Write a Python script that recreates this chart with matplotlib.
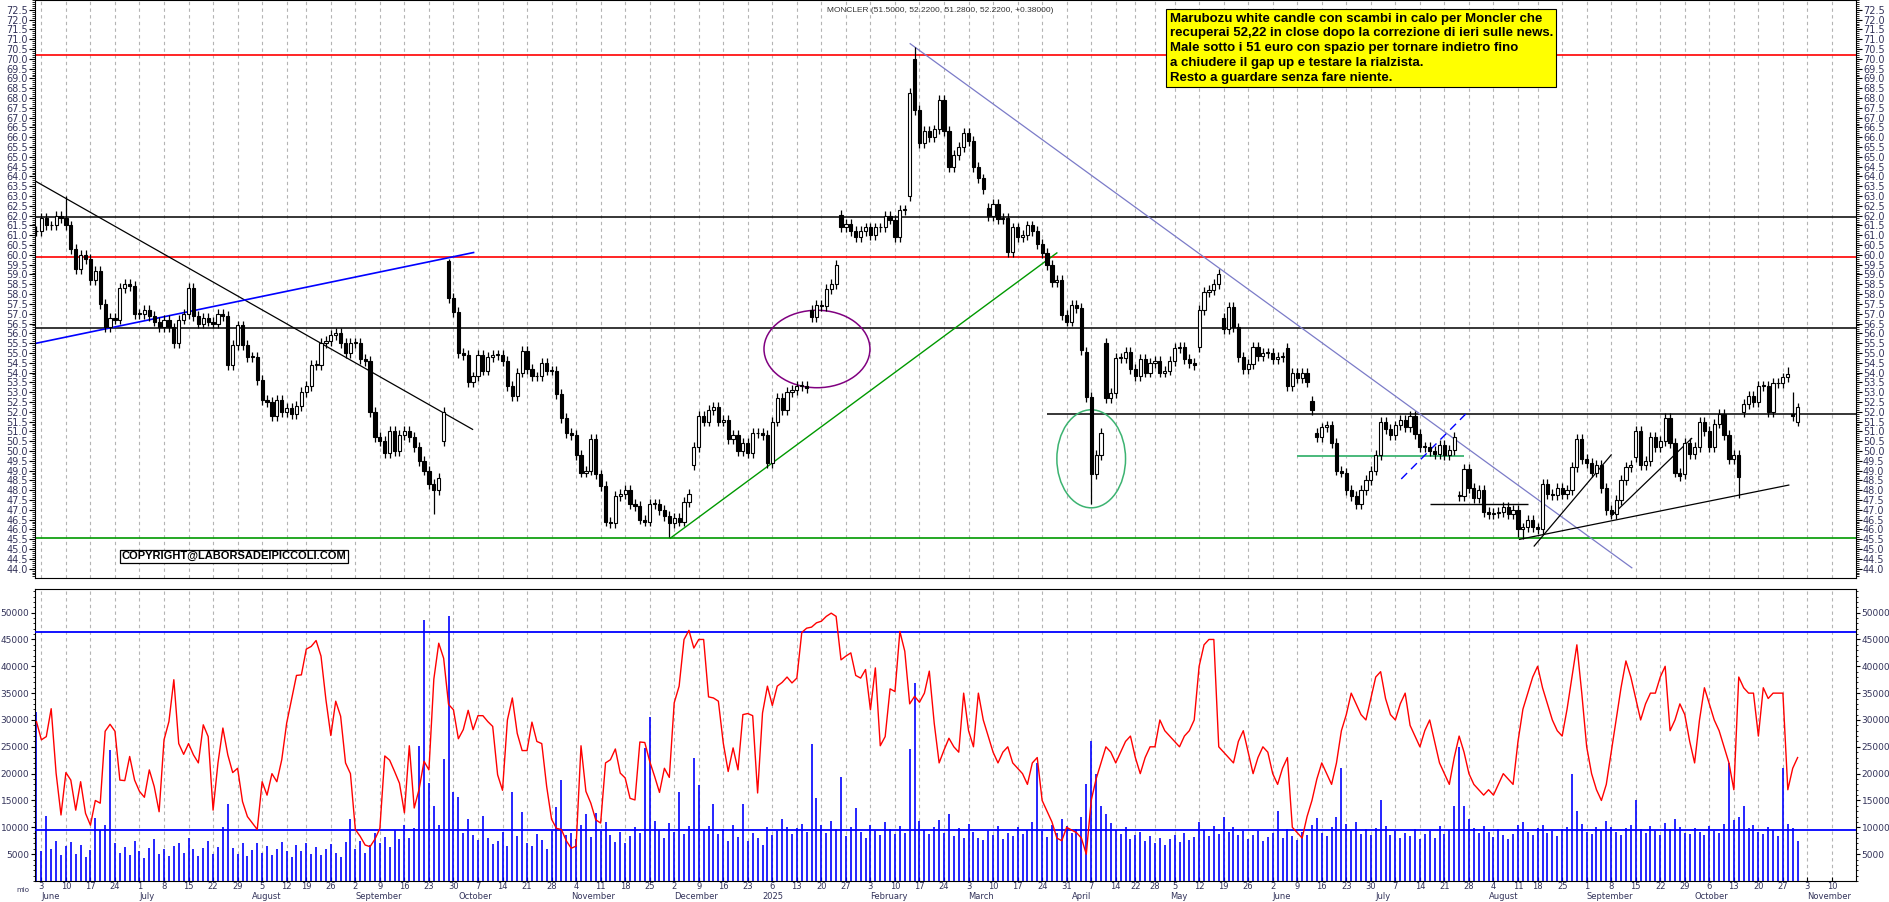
import numpy as np
import pandas as pd
import matplotlib
matplotlib.use("Agg")
import matplotlib.pyplot as plt
from matplotlib.patches import Ellipse
from matplotlib.ticker import MultipleLocator, FixedLocator

# ---------------- DATA ----------------
holidays = ["2024-08-15", "2024-12-24", "2024-12-25", "2024-12-26", "2024-12-31",
            "2025-01-01", "2025-04-18", "2025-04-21", "2025-05-01", "2025-08-15"]

closes = [
 61.2, 61.9, 61.5, 61.5, 62.0, 61.9, 61.5, 60.3, 59.3, 60.0, 59.8, 58.7, 59.2, 57.5, 56.3, 56.8, 56.7, 58.3, 58.5, 58.4,
 57.0, 57.0, 57.2, 56.9, 56.6, 56.3, 56.7, 56.3, 55.5, 56.7, 57.0, 58.3, 56.9, 56.5, 56.8, 56.6, 56.5, 57.0, 56.9, 54.4,
 55.4, 56.4, 55.4, 54.8, 54.8, 53.6, 52.6, 52.5, 51.8, 52.6, 52.0, 52.2, 51.9, 52.3, 53.0, 53.3, 54.4, 54.4, 55.5, 55.6,
 55.9, 56.0, 55.5, 55.0, 55.5, 55.5, 54.7, 54.6, 52.0, 50.7, 50.5, 49.9, 51.0, 50.0, 50.8, 51.0, 50.7, 50.2, 49.5, 49.0,
 48.3, 48.0, 48.6, 52.0, 57.8, 57.1, 55.0, 54.9, 53.5, 53.8, 54.9, 54.1, 54.8, 54.9, 54.9, 54.6, 53.3, 52.8, 54.0, 55.1,
 54.2, 53.8, 53.8, 54.5, 54.1, 54.1, 52.9, 51.7, 50.9, 50.8, 49.8, 48.9, 49.0, 50.6, 48.8, 48.2, 46.4, 46.3, 47.7, 47.8,
 48.0, 47.3, 47.2, 46.5, 46.4, 47.3, 47.3, 47.0, 46.7, 46.3, 46.6, 46.4, 47.4, 47.8, 50.2, 51.8, 51.5, 52.1, 52.25, 51.5,
 51.6, 50.6, 50.8, 50.0, 50.4, 49.9, 50.9, 50.9, 50.8, 49.4, 51.5, 52.7, 52.1, 53.0, 53.1, 53.3, 53.3, 53.2, 56.85, 57.45,
 57.4, 58.25, 58.5, 59.5, 61.4, 61.6, 61.2, 60.9, 61.2, 61.4, 61.0, 61.4, 61.4, 62.0, 61.8, 60.9, 62.3, 62.3, 68.25, 67.4,
 65.7, 66.3, 66.0, 66.4, 67.9, 66.3, 64.5, 65.1, 65.5, 66.2, 65.8, 64.5, 63.9, 63.35, 62.0, 62.6, 61.85, 61.9, 60.15, 61.4,
 60.9, 61.0, 61.5, 61.2, 60.55, 60.1, 59.5, 58.6, 58.7, 56.95, 56.6, 57.45, 57.3, 55.15, 52.75, 48.8, 49.8, 50.9, 52.7, 52.95,
 54.75, 54.75, 55.05, 54.2, 53.8, 54.7, 54.0, 54.5, 54.6, 54.0, 54.1, 54.6, 55.25, 55.3, 54.7, 54.5, 54.4, 57.2, 58.1, 58.2,
 58.5, 59.0, 56.2, 57.35, 56.3, 54.8, 54.2, 54.45, 55.3, 54.85, 55.0, 55.0, 54.7, 54.8, 54.8, 53.3, 54.0, 53.7, 54.0, 53.5,
 52.1, 50.7, 51.2, 51.3, 50.4, 49.0, 48.9, 48.0, 47.7, 47.3, 48.0, 48.5, 49.0, 49.8, 51.5, 51.1, 50.8, 51.3, 51.6, 51.2,
 51.8, 50.85, 50.2, 50.2, 50.0, 49.85, 50.3, 49.8, 50.05, 50.7, 47.7, 49.1, 48.1, 47.6, 48.0, 46.9, 46.8, 46.85, 46.9, 47.15,
 46.8, 47.0, 46.0, 46.1, 46.5, 46.1, 46.0, 48.3, 47.8, 47.75, 48.1, 47.8, 48.0, 49.2, 50.6, 49.6, 49.4, 48.9, 49.3, 48.1,
 47.0, 46.8, 47.5, 48.5, 49.2, 49.3, 51.0, 49.3, 49.5, 50.7, 50.2, 50.5, 51.7, 50.4, 48.9, 48.7, 50.4, 49.85, 50.2, 51.5,
 51.0, 50.2, 51.4, 51.9, 50.8, 49.6, 49.8, 48.65, 52.4, 52.8, 52.5, 53.3, 53.3, 52.0, 53.45, 53.45, 53.75, 53.9, 51.8, 52.22,
]

# opens that differ from the previous close (gaps)
gap_opens = {0: 61.2, 83: 50.5, 84: 59.7, 134: 49.3, 158: 57.2, 164: 62.04, 178: 63.0, 179: 70.0,
             194: 62.4, 214: 55.05, 218: 55.5, 237: 55.3, 242: 56.8, 255: 55.25, 260: 52.55,
             261: 50.9, 274: 49.8, 290: 47.7, 307: 46.0, 313: 48.0, 326: 49.7, 336: 48.8,
             348: 52.0, 358: 51.9, 359: 51.5}
high_over = {6: 63.0, 84: 59.8, 178: 68.5, 179: 70.6, 241: 59.3, 357: 54.3, 358: 53.0}
low_over = {81: 46.8, 129: 45.6, 215: 47.3, 302: 45.6, 303: 45.5, 347: 47.6}

volume_k = [
 31.5, 5.5, 12.1, 6.0, 7.5, 4.8, 6.5, 7.2, 5.0, 6.8, 4.5, 5.8, 11.8, 9.5, 10.4, 24.4, 7.0, 5.2, 6.3, 4.9,
 7.4, 5.5, 4.3, 6.1, 7.8, 5.0, 6.0, 4.6, 6.6, 7.0, 5.3, 8.1, 5.9, 4.7, 6.2, 7.5, 5.1, 6.3, 10.0, 14.4,
 6.2, 5.0, 7.0, 4.6, 5.8, 7.1, 5.3, 6.5, 4.9, 6.0, 7.3, 5.5, 4.4, 6.8, 5.6, 7.0, 5.1, 6.4, 4.8, 5.9,
 6.9, 5.2, 4.5, 7.2, 11.6, 6.0, 7.5, 5.3, 6.8, 9.0, 7.0, 8.2, 6.4, 9.5, 7.8, 10.5, 8.0, 9.8, 25.2, 48.7,
 18.3, 14.0, 10.5, 22.8, 49.4, 16.5, 15.6, 9.0, 11.6, 8.5, 7.6, 12.1, 8.0, 6.9, 7.5, 9.2, 6.6, 16.5, 8.3, 12.9,
 7.1, 6.5, 8.8, 7.7, 6.0, 9.3, 13.8, 18.8, 8.5, 9.0, 7.9, 10.5, 12.5, 8.2, 12.6, 9.4, 11.0, 8.6, 7.3, 9.1,
 7.0, 8.4, 10.0, 9.0, 24.7, 30.5, 11.2, 9.5, 8.0, 10.8, 9.2, 16.5, 8.8, 10.3, 23.0, 17.9, 9.5, 10.2, 14.3, 8.7,
 9.6, 7.4, 10.5, 8.2, 14.4, 7.5, 9.0, 8.1, 6.8, 10.0, 8.5, 9.4, 11.5, 10.1, 8.7, 9.8, 10.6, 9.2, 25.6, 15.5,
 10.5, 9.0, 11.2, 9.6, 19.3, 8.4, 10.0, 13.6, 9.1, 8.0, 10.4, 9.3, 8.6, 11.0, 9.7, 8.8, 10.2, 9.0, 24.6, 36.8,
 11.2, 9.5, 8.7, 10.1, 11.4, 9.0, 12.5, 8.3, 9.9, 8.1, 10.7, 9.2, 8.0, 7.6, 9.4, 8.5, 10.3, 7.9, 9.0, 8.4,
 10.1, 8.8, 9.5, 11.0, 22.0, 9.3, 8.2, 10.5, 9.0, 11.5, 10.2, 8.9, 9.7, 12.0, 18.0, 26.0, 20.0, 14.0, 12.5, 10.8,
 9.5, 8.7, 10.0, 7.8, 8.6, 9.2, 7.5, 8.3, 7.0, 8.0, 6.8, 7.9, 8.5, 7.2, 9.0, 7.6, 8.2, 11.0, 9.5, 8.4,
 10.2, 8.8, 12.0, 9.1, 10.0, 8.5, 9.3, 7.8, 8.6, 9.4, 7.5, 8.2, 9.0, 13.0, 8.0, 9.6, 8.3, 7.7, 9.2, 8.5,
 10.5, 11.8, 9.0, 8.4, 10.0, 12.0, 21.0, 10.6, 9.5, 11.0, 8.8, 9.7, 8.5, 9.9, 15.0, 10.2, 8.6, 9.3, 8.1, 9.0,
 8.4, 9.6, 7.9, 8.8, 9.4, 8.0, 10.2, 8.7, 9.5, 14.0, 25.0, 14.0, 11.5, 9.8, 8.9, 10.3, 9.1, 8.2, 9.6, 8.5,
 7.9, 8.8, 10.4, 11.0, 9.2, 8.6, 9.8, 10.5, 8.9, 9.4, 8.3, 9.7, 10.1, 20.0, 13.0, 10.6, 9.2, 8.7, 10.0, 9.5,
 11.2, 10.0, 9.1, 8.6, 9.8, 10.4, 15.0, 9.6, 8.9, 10.2, 9.3, 8.5, 10.8, 9.7, 11.5, 10.1, 9.0, 8.8, 9.9, 9.2,
 8.6, 10.3, 9.4, 8.9, 10.7, 22.0, 11.3, 12.0, 14.0, 9.8, 10.5, 9.1, 8.7, 10.0, 9.5, 8.4, 21.0, 10.6, 9.8, 7.5,
]

red_k = [
 29.7, 26.3, 26.9, 32.1, 20.1, 12.3, 20.2, 18.8, 13.2, 18.5, 12.6, 10.4, 15.0, 14.5, 27.9, 29.2, 27.9, 18.8, 18.7,
 23.2, 18.8, 16.7, 15.6, 20.7, 17.6, 12.9, 26.3, 29.7, 37.5, 25.6, 23.6, 25.6, 23.5, 22.0, 29.1, 26.9, 13.2, 22.0, 28.5,
 23.5, 20.2, 21.0, 14.8, 12.0, 10.8, 9.6, 18.5, 16.0, 20.0, 18.5, 22.6, 29.4, 33.8, 38.3, 38.4, 43.2, 43.7, 44.8, 41.9,
 33.8, 27.1, 33.5, 30.7, 22.0, 20.0, 9.6, 8.3, 6.7, 6.4, 7.8, 9.8, 23.3, 22.5, 20.4, 18.2, 12.7, 25.2, 13.6, 17.1,
 22.3, 20.7, 37.6, 44.3, 41.5, 32.9, 31.9, 26.5, 28.2, 31.8, 28.2, 30.8, 30.8, 29.7, 28.8, 19.8, 16.9, 30.0, 34.1, 27.5,
 24.3, 24.3, 29.6, 26.0, 25.6, 17.6, 11.5, 9.8, 9.6, 7.5, 6.1, 6.5, 25.2, 16.7, 14.5, 11.4, 10.8, 22.0, 22.6, 24.6,
 20.1, 19.2, 15.4, 15.1, 25.9, 25.8, 22.3, 19.5, 16.5, 21.0, 19.3, 33.2, 36.3, 45.0, 46.7, 43.4, 45.0, 45.0, 34.3, 34.1,
 33.5, 25.7, 20.4, 24.8, 20.7, 31.0, 31.2, 30.8, 16.4, 31.3, 36.3, 32.7, 36.3, 37.0, 38.0, 36.9, 37.8, 46.3, 47.1, 47.3,
 48.1, 48.4, 49.3, 49.9, 49.3, 41.2, 41.9, 42.5, 38.3, 37.8, 39.4, 31.9, 39.7, 25.2, 26.9, 35.8, 35.3, 46.5, 42.8, 33.0,
 34.4, 33.3, 35.0, 39.1, 29.4, 22.0, 24.4, 26.6,
 25, 24, 35, 28, 25, 35, 30, 27, 24, 22, 24, 25, 22,
 21, 20, 18, 22, 23, 15, 13, 11, 8, 7.5, 10, 9.5, 9, 8, 5, 15, 19, 22, 25, 24,
 22, 24, 26, 27, 23, 20, 23, 25, 25, 30, 28, 27, 26, 25, 27, 28, 30, 40, 44, 45,
 45, 25, 24, 23, 22, 26, 28, 24, 20, 23, 25, 24, 20, 18, 21, 23, 10, 9, 8, 12,
 15, 19, 22, 20, 18, 22, 28, 31, 35, 33, 31, 30, 34, 38, 39, 34, 31, 30, 33, 35,
 29, 27, 25, 28, 30, 26, 22, 20, 18, 23, 27, 24, 20, 18, 17, 16, 17, 16, 18, 20,
 19, 18, 26, 32, 35, 38, 40, 36, 33, 30, 28, 27, 32, 38, 44, 35, 25, 20, 17, 15,
 18, 24, 30, 36, 41, 38, 34, 30, 33, 35, 35, 38, 40, 28, 30, 33, 31, 26, 22, 30,
 36, 33, 30, 28, 25, 22, 17, 38, 36, 35, 35, 27, 36, 34, 35, 35, 35, 17, 21, 23,
]

price_levels_black = [61.95, 56.28]
price_levels_red = [70.2, 59.88]
support_green = 45.55
vol_levels = [46400, 9500]

# trendlines (day index, price)
line_black_down = [(-0.7, 63.83), (88.9, 51.1)]
line_blue_up = [(-0.7, 55.46), (89.1, 60.12)]
line_green_up = [(129.2, 45.55), (208.0, 60.1)]
line_slate = [(178.1, 70.77), (325.2, 44.04)]
line_blue_dash = [(278.2, 48.57), (292.2, 52.1)]
line_black_1 = [(305.3, 45.15), (321.0, 49.8)]
line_black_2 = [(321.0, 46.68), (337.4, 50.64)]
line_black_3 = [(302.3, 45.49), (357.2, 48.26)]
hline_black_52 = (206.0, 51.9)
hline_black_47 = (284.0, 304.0, 47.27)
hline_green_50 = (257.0, 291.0, 49.75)

note_text = ("Marubozu white candle con scambi in calo per Moncler che\n"
             "recuperai 52,22 in close dopo la correzione di ieri sulle news.\n"
             "Male sotto i 51 euro con spazio per tornare indietro fino\n"
             "a chiudere il gap up e testare la rialzista.\n"
             "Resto a guardare senza fare niente.")
title_text = "MONCLER (51.5000, 52.2200, 51.2800, 52.2200, +0.38000)"
copyright_text = "COPYRIGHT@LABORSADEIPICCOLI.COM"
month_names = {1: "2025", 2: "February", 3: "March", 4: "April", 5: "May", 6: "June", 7: "July",
               8: "August", 9: "September", 10: "October", 11: "November", 12: "December"}
price_ticks = np.arange(43.5, 72.51, 0.5)
volume_ticks = np.arange(5000, 50001, 5000)

# ---------------- PREP ----------------
all_days = pd.bdate_range("2024-05-31", "2025-11-14")
all_days = all_days[~all_days.isin(pd.to_datetime(holidays))]
n = len(closes)
idx = np.arange(n)
c = np.array(closes)
o = np.concatenate([[c[0]], c[:-1]])
for k, v in gap_opens.items():
    o[k] = v
hi = np.maximum(o, c) + 0.25
lo = np.minimum(o, c) - 0.25
for k, v in high_over.items():
    hi[k] = v
for k, v in low_over.items():
    lo[k] = v

# week / month ticks (skip a week tick too close to the previous one)
week_ticks, week_labels, month_ticks, month_labels = [], [], [], []
for i in range(1, len(all_days)):
    d, p = all_days[i], all_days[i - 1]
    if d.weekday() < p.weekday() or (d - p).days > 3:
        if not week_ticks or i - week_ticks[-1] >= 4:
            week_ticks.append(i)
            week_labels.append(str(d.day))
    if d.month != p.month:
        month_ticks.append(i)
        month_labels.append(month_names[d.month])

XMIN, XMAX = -0.3, 370.9
tick_color = "#33335a"

fig = plt.figure(figsize=(18.9, 9.02), dpi=100)
ax = fig.add_axes([35 / 1890, 1 - 578 / 902, (1856 - 35) / 1890, 578 / 902])
axv = fig.add_axes([35 / 1890, 1 - 881 / 902, (1856 - 35) / 1890, (881 - 589) / 902])

for a in (ax, axv):
    for t in week_ticks:
        if XMIN < t < XMAX:
            a.axvline(t, color="#b4b4b4", lw=0.8, ls=(0, (3, 3)), zorder=0)
    a.set_xlim(XMIN, XMAX)

# price panel
ax.set_ylim(43.52, 73.0)
for y in price_levels_red:
    ax.axhline(y, color="#ff0000", lw=1.2, zorder=1)
for y in price_levels_black:
    ax.axhline(y, color="black", lw=1.1, zorder=1)
ax.axhline(support_green, color="#009900", lw=1.2, zorder=1)
ax.hlines(hline_black_52[1], hline_black_52[0], XMAX, color="black", lw=1.1, zorder=1)
ax.hlines(hline_black_47[2], hline_black_47[0], hline_black_47[1], color="black", lw=1.0, zorder=1)
ax.hlines(hline_green_50[2], hline_green_50[0], hline_green_50[1], color="#3cb371", lw=1.3, zorder=1)

def seg(pts, **kw):
    ax.plot([pts[0][0], pts[1][0]], [pts[0][1], pts[1][1]], **kw)

seg(line_black_down, color="black", lw=0.9, zorder=2)
seg(line_blue_up, color="#0000ff", lw=1.2, zorder=2)
seg(line_green_up, color="#009900", lw=1.0, zorder=2)
seg(line_slate, color="#7b7bc8", lw=0.9, zorder=2)
seg(line_blue_dash, color="#0000ff", lw=1.0, ls=(0, (6, 4)), zorder=2)
seg(line_black_1, color="black", lw=0.9, zorder=2)
seg(line_black_2, color="black", lw=0.9, zorder=2)
seg(line_black_3, color="black", lw=0.9, zorder=2)

ax.add_patch(Ellipse((159.1, 55.2), 21.6, 3.95, fill=False, edgecolor="#800080", lw=1.1, zorder=3))
ax.add_patch(Ellipse((215.0, 49.6), 14.0, 5.0, fill=False, edgecolor="#3cb371", lw=1.1, zorder=3))

# candles
ax.vlines(idx, lo, hi, color="black", lw=0.9, zorder=4)
up = c >= o
body_h = np.maximum(np.abs(c - o), 0.04)
body_b = np.minimum(o, c)
ax.bar(idx[up], body_h[up], bottom=body_b[up], width=0.65, color="white", edgecolor="black", lw=0.8, zorder=5)
ax.bar(idx[~up], body_h[~up], bottom=body_b[~up], width=0.65, color="black", edgecolor="black", lw=0.8, zorder=5)

ax.text(231.0, 72.35, note_text, ha="left", va="top", fontsize=9.5, fontweight="bold",
        family=["Liberation Sans", "DejaVu Sans"], linespacing=1.3, zorder=10,
        bbox=dict(boxstyle="square,pad=0.25", facecolor="#ffff00", edgecolor="black", lw=0.8))
ax.text(0.497, 0.988, title_text, transform=ax.transAxes, ha="center", va="top", fontsize=6,
        color="#333333", family=["Liberation Sans", "DejaVu Sans"])
ax.text(40.3, 44.62, copyright_text, ha="center", va="center", fontsize=8, fontweight="bold",
        family=["Liberation Sans", "DejaVu Sans"], zorder=10,
        bbox=dict(boxstyle="square,pad=0.15", facecolor="white", edgecolor="black", lw=0.9))

ax.yaxis.set_major_locator(FixedLocator(price_ticks))
ax.yaxis.set_minor_locator(MultipleLocator(0.1))
ax.yaxis.set_major_formatter(matplotlib.ticker.FormatStrFormatter("%.1f"))
ax.tick_params(axis="y", which="both", left=True, right=True, labelleft=True, labelright=True,
               direction="out", labelsize=7, labelcolor=tick_color, pad=1)
ax.tick_params(axis="y", which="major", length=4)
ax.tick_params(axis="y", which="minor", length=2)
ax.set_xticks([])

# volume panel
axv.set_ylim(0, 54400)
axv.vlines(idx, 0, np.array(volume_k) * 1000, color="#0000ff", lw=1.2, zorder=2)
for y in vol_levels:
    axv.axhline(y, color="#0000ff", lw=1.3, zorder=3)
axv.plot(np.arange(len(red_k)), np.array(red_k) * 1000, color="#ff0000", lw=1.0, zorder=4)
axv.yaxis.set_major_locator(FixedLocator(volume_ticks))
axv.yaxis.set_minor_locator(MultipleLocator(1000))
axv.yaxis.set_major_formatter(matplotlib.ticker.FormatStrFormatter("%d"))
axv.tick_params(axis="y", which="both", left=True, right=True, labelleft=True, labelright=True,
                direction="out", labelsize=6.5, labelcolor=tick_color, pad=1)
axv.tick_params(axis="y", which="major", length=3)
axv.tick_params(axis="y", which="minor", length=1.5)
vt = [t for t in week_ticks if XMIN < t < XMAX]
vl = [l for t, l in zip(week_ticks, week_labels) if XMIN < t < XMAX]
axv.set_xticks(vt)
axv.set_xticklabels(vl, fontsize=6, color=tick_color)
axv.tick_params(axis="x", length=3, pad=0.5, direction="in")
for t, l in zip(month_ticks, month_labels):
    if XMIN < t < XMAX:
        axv.text(t, -0.052, l, transform=axv.get_xaxis_transform(), ha="left", va="center",
                 fontsize=6, color=tick_color)
axv.text(-0.003, -0.03, "mio", transform=axv.transAxes, ha="right", va="center", fontsize=5,
         color=tick_color)

fig.savefig("out.png", dpi=100)
